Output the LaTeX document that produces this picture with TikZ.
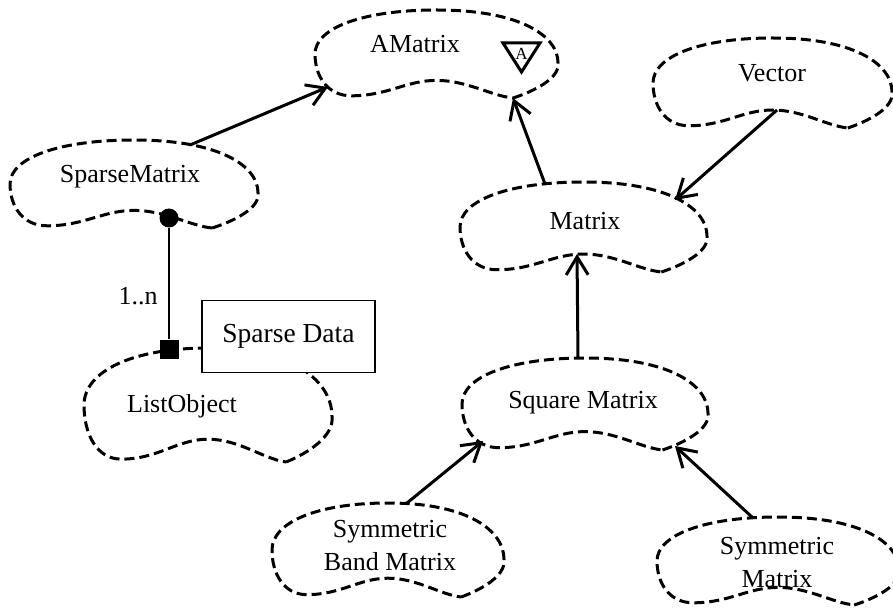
\documentclass[tikz,border=0pt]{standalone}
\usepackage{fontspec}
\setmainfont{Liberation Serif}
\usetikzlibrary{arrows.meta}

\tikzset{
  cloudline/.style={line width=3pt, dash pattern=on 10pt off 5pt, line join=round},
  classname/.style={font=\fontsize{26}{33}\selectfont, inner sep=0pt, anchor=base, align=center},
  inherits/.style={line width=3pt, -{Straight Barb[length=18pt,width=22pt,line width=3pt]}},
  thinline/.style={line width=1.6pt},
}

% Booch class cloud: centre (#1,#2), half width #3, half height #4
\newcommand\boochcloud[4]{%
  \draw[cloudline, shift={(#1,#2)}, xscale=#3, yscale=-#4]
    (0.63,-1) .. controls (0.8,-0.85) and (1.02,-0.55) .. (1,-0.2)
    .. controls (1,0.4) and (0.7,1) .. (0,1)
    .. controls (-0.6,1) and (-1,0.6) .. (-1,0)
    .. controls (-1,-0.5) and (-0.9,-0.95) .. (-0.7,-0.95)
    .. controls (-0.4,-0.95) and (-0.25,-0.6) .. (0,-0.6)
    .. controls (0.25,-0.6) and (0.45,-0.95) .. (0.63,-1) -- cycle;}

\begin{document}
\begin{tikzpicture}[x=1pt, y=-1pt]
\clip (0,0) rectangle (893,609);
\fill[white] (0,0) rectangle (893,609);

% class clouds
\boochcloud{436.5}{54}{121.5}{44}
\boochcloud{134}{184}{124}{44}
\boochcloud{208}{405}{124}{57}
\boochcloud{583.5}{227}{123.5}{45}
\boochcloud{772.5}{83}{119.5}{45}
\boochcloud{585}{404}{123}{46}
\boochcloud{388}{550}{116}{47}
\boochcloud{778}{561}{121}{44}

% class names (multi-line names are placed by their last baseline)
\node[classname] (amatrix) at (415,53) {AMatrix};
\node[classname] (sparsematrix) at (130,183) {SparseMatrix};
\node[classname] (listobject) at (182,412) {ListObject};
\node[classname] (matrix) at (585,230) {Matrix};
\node[classname] (vector) at (772,82) {Vector};
\node[classname] (squarematrix) at (583,408) {Square Matrix};
\node[classname] (symband) at (390,570) {Symmetric\\Band Matrix};
\node[classname] (symmetric) at (777,587) {Symmetric\\Matrix};

% abstract adornment
\draw[line width=3pt, line join=miter] (503,43) -- (540,43) -- (521.5,72) -- cycle;
\node[font=\fontsize{17}{17}\selectfont, inner sep=0pt] (abstractmark) at (521.5,54) {A};

% sparse data note box
\node[draw, fill=white, line width=1.8pt, minimum width=173pt, minimum height=72pt,
      inner sep=0pt, font=\fontsize{27.5}{33}\selectfont] (sparsedata) at (288.5,336.5) {Sparse Data};

% has relationship
\node[circle, fill=black, inner sep=0pt, minimum size=19pt] (hasdot) at (169,218) {};
\node[fill=black, inner sep=0pt, minimum size=19pt] (keysq) at (169,349) {};
\draw[thinline] (hasdot) -- (keysq);
\node[classname] (card) at (138,305) {1..n};

% attachment points on the clouds
\coordinate (sm-top) at (190,145);
\coordinate (am-sw) at (328,87);
\coordinate (am-notch) at (513,98);
\coordinate (mx-top) at (545,184);
\coordinate (vc-hump) at (777,110);
\coordinate (mx-ne) at (675,200);
\coordinate (sq-top) at (578,358);
\coordinate (mx-hump) at (577,254);
\coordinate (sb-top) at (407,503);
\coordinate (sq-sw) at (483,441);
\coordinate (sy-top) at (753,518);
\coordinate (sq-se) at (675,446);

% inheritance / use arrows
\draw[inherits] (sm-top) -- (am-sw);
\draw[inherits] (mx-top) -- (am-notch);
\draw[inherits] (vc-hump) -- (mx-ne);
\draw[inherits] (sq-top) -- (mx-hump);
\draw[inherits] (sb-top) -- (sq-sw);
\draw[inherits] (sy-top) -- (sq-se);
\end{tikzpicture}
\end{document}
